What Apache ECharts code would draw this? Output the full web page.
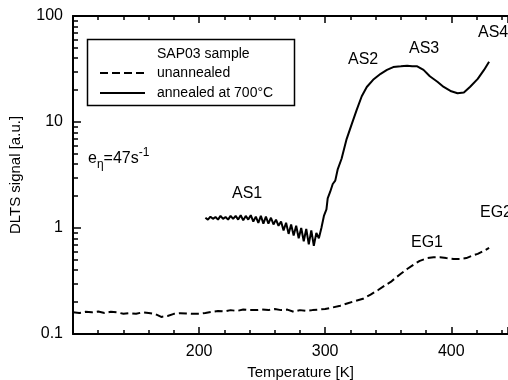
<!DOCTYPE html>
<html>
<head>
<meta charset="utf-8">
<script src="https://cdn.jsdelivr.net/npm/echarts@6/dist/echarts.min.js"></script>
<style>
  html, body { margin: 0; padding: 0; background: #fff; }
  #chart { width: 508px; height: 380px; }
</style>
</head>
<body>
<div id="chart"></div>
<script>
// temperature [K] / DLTS signal [a.u.]
const unannealedT = [100, 105, 110, 115, 120, 125, 130, 135, 140, 145, 150, 155, 160, 165, 170, 175, 180, 185, 190, 195,
  200, 205, 210, 215, 220, 225, 230, 235, 240, 245, 250, 255, 260, 265, 270, 275, 280, 285, 290, 295,
  300, 306, 312, 318, 324, 330, 336, 342, 348, 352, 356, 360, 365, 370, 375, 381, 386, 391, 396, 402,
  407, 412, 417, 421, 426, 430]
const unannealedVal = [0.16, 0.158, 0.162, 0.16, 0.163, 0.158, 0.162, 0.16, 0.155, 0.157, 0.155, 0.16, 0.158, 0.155, 0.145, 0.148, 0.155, 0.157, 0.156, 0.155,
  0.155, 0.158, 0.162, 0.165, 0.163, 0.168, 0.165, 0.17, 0.168, 0.168, 0.17, 0.168, 0.172, 0.168, 0.17, 0.162, 0.168, 0.165, 0.168, 0.17,
  0.172, 0.178, 0.185, 0.195, 0.205, 0.215, 0.235, 0.26, 0.29, 0.31, 0.34, 0.37, 0.41, 0.45, 0.49, 0.52, 0.53, 0.53, 0.52, 0.51,
  0.51, 0.52, 0.55, 0.57, 0.61, 0.65]

const annealedT = [205, 207, 209, 211, 213, 215, 217, 219, 221, 223, 225, 227, 229, 231, 233, 235, 237, 239, 241, 243,
  245, 247, 249, 251, 253, 255, 257, 259, 261, 263, 265, 267, 269, 271, 273, 275, 277, 279, 281, 283,
  285, 287, 289, 291, 293, 295, 297, 299, 301, 302, 304, 306, 308, 310, 313, 317, 321, 325, 329, 333,
  338, 344, 349, 354, 360, 365, 369, 373, 378, 383, 389, 394, 400, 405, 410, 415, 421, 426, 430]
const annealedVal = [1.25, 1.2, 1.28, 1.22, 1.27, 1.2, 1.3, 1.22, 1.27, 1.2, 1.3, 1.22, 1.3, 1.2, 1.32, 1.18, 1.3, 1.2, 1.32, 1.15,
  1.28, 1.12, 1.3, 1.1, 1.28, 1.1, 1.25, 1.08, 1.2, 1.05, 1.15, 0.95, 1.12, 0.88, 1.08, 0.85, 1.05, 0.8, 1.0, 0.75,
  0.98, 0.7, 0.95, 0.68, 0.9, 0.8, 1.0, 1.3, 1.5, 1.9, 2.2, 2.6, 2.8, 3.6, 4.5, 6.9, 9.5, 13, 17.5, 21.4,
  25, 28.5, 31, 33, 33.5, 34, 33.5, 33.5, 31, 27, 24, 21.4, 19.5, 18.7, 19, 21.5, 25.5, 31, 37]

const xLabelTicks = [200, 300, 400]
const yMajorTicks = [0.1, 1, 10, 100]
const yMinorTicks = [0.2, 0.3, 0.4, 0.5, 0.6, 0.7, 0.8, 0.9, 2, 3, 4, 5, 6, 7, 8, 9, 20, 30, 40, 50, 60, 70, 80, 90]

const seriesNames = ["unannealed", "annealed at 700°C"]

const font = "'Liberation Sans', Arial, sans-serif"
const chart = echarts.init(document.getElementById("chart"), null, { renderer: "canvas" })

const zip = (xs, ys) => xs.map((x, i) => [x, ys[i]])

// fresh objects for each axis so nothing is shared
const xBase = () => ({
  type: "value",
  min: 100,
  max: 445,
  interval: 100,
  axisLine: { show: true, onZero: false, lineStyle: { color: "#000", width: 2 } },
  axisTick: { show: true, inside: true, length: 7, lineStyle: { color: "#000", width: 1.5 } },
  minorTick: { show: true, splitNumber: 5, length: 4, lineStyle: { color: "#000", width: 1.5 } },
  splitLine: { show: false },
})

const yBase = () => ({
  type: "log",
  logBase: 10,
  min: 0.1,
  max: 100,
  splitLine: { show: false },
})

chart.setOption({
  animation: false,
  backgroundColor: "#fff",
  grid: { left: 73, top: 16, right: 0, bottom: 46, outerBoundsMode: "none" },
  xAxis: [
    {
      ...xBase(),
      name: "Temperature [K]",
      nameLocation: "middle",
      nameGap: 29,
      nameTextStyle: { color: "#000", fontFamily: font, fontSize: 15, padding: [0, 0, 0, 20] },
      axisLabel: {
        color: "#000",
        fontFamily: font,
        fontSize: 16,
        margin: 10,
        formatter: (v) => (xLabelTicks.includes(v) ? String(v) : ""),
      },
    },
    {
      ...xBase(),
      position: "top",
      axisLabel: { show: false },
    },
  ],
  yAxis: [
    {
      ...yBase(),
      name: "DLTS signal [a.u.]",
      nameLocation: "middle",
      nameGap: 50,
      nameTextStyle: { color: "#000", fontFamily: font, fontSize: 15 },
      axisLine: { show: true, onZero: false, lineStyle: { color: "#000", width: 2 } },
      axisTick: { show: true, inside: true, length: 8, customValues: yMajorTicks, lineStyle: { color: "#000", width: 1.5 } },
      axisLabel: {
        color: "#000",
        fontFamily: font,
        fontSize: 16,
        margin: 10,
        customValues: yMajorTicks,
        formatter: (v) => String(v),
      },
    },
    {
      ...yBase(),
      position: "left",
      axisLine: { show: false, onZero: false },
      axisTick: { show: true, inside: true, length: 5, customValues: yMinorTicks, lineStyle: { color: "#000", width: 1.5 } },
      axisLabel: { show: false },
    },
  ],
  legend: {
    left: 99,
    top: 66,
    orient: "vertical",
    itemWidth: 45,
    itemHeight: 14,
    itemGap: 6,
    padding: 0,
    data: seriesNames,
    itemStyle: { opacity: 0 },
    textStyle: { color: "#000", fontFamily: font, fontSize: 14, padding: [0, 0, 0, 7] },
  },
  graphic: [
    {
      type: "rect",
      left: 85,
      top: 37,
      shape: { width: 207, height: 66 },
      style: { fill: "none", stroke: "#000", lineWidth: 1.5 },
      z: 10,
    },
    { type: "text", left: 157, top: 47, style: { text: "SAP03 sample", font: "14px " + font, fill: "#000" } },
    {
      type: "text",
      left: 88,
      top: 147,
      style: {
        text: "{a|e}{s|η}{a|=47s}{p|-1}",
        rich: {
          a: { font: "16px " + font, fill: "#000", verticalAlign: "bottom" },
          s: { font: "12px " + font, fill: "#000", padding: [0, 0, -4, 0], verticalAlign: "bottom" },
          p: { font: "12px " + font, fill: "#000", padding: [0, 0, 8, 0], verticalAlign: "bottom" },
        },
      },
    },
    { type: "text", left: 232, top: 186, style: { text: "AS1", font: "16px " + font, fill: "#000" } },
    { type: "text", left: 348, top: 52, style: { text: "AS2", font: "16px " + font, fill: "#000" } },
    { type: "text", left: 409, top: 41, style: { text: "AS3", font: "16px " + font, fill: "#000" } },
    { type: "text", left: 478, top: 25, style: { text: "AS4", font: "16px " + font, fill: "#000" } },
    { type: "text", left: 411, top: 235, style: { text: "EG1", font: "16px " + font, fill: "#000" } },
    { type: "text", left: 480, top: 205, style: { text: "EG2", font: "16px " + font, fill: "#000" } },
  ],
  series: [
    {
      name: seriesNames[0],
      type: "line",
      symbol: "none",
      lineStyle: { color: "#000", width: 2, type: [8, 4] },
      itemStyle: { color: "#000" },
      data: zip(unannealedT, unannealedVal),
    },
    {
      name: seriesNames[1],
      type: "line",
      symbol: "none",
      lineStyle: { color: "#000", width: 2 },
      itemStyle: { color: "#000" },
      data: zip(annealedT, annealedVal),
    },
  ],
})
</script>
</body>
</html>
